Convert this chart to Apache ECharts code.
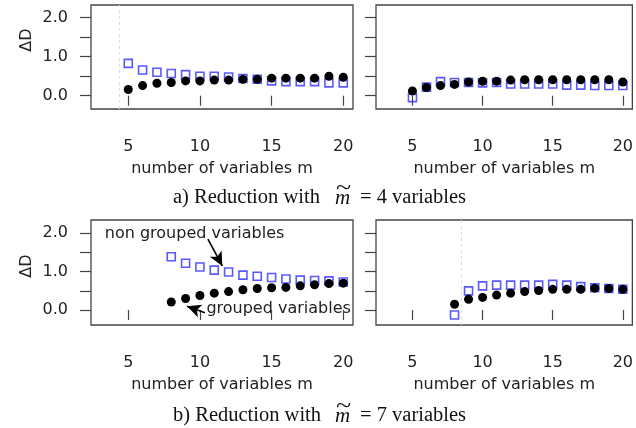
<!DOCTYPE html>
<html><head><meta charset="utf-8">
<script src="https://cdn.jsdelivr.net/npm/echarts@6/dist/echarts.min.js"></script>
<style>html,body{margin:0;padding:0;background:#fff}#c{width:636px;height:428px}</style>
</head><body><div id="c"></div>
<script>
// ---- data ----
const mA = [5,6,7,8,9,10,11,12,13,14,15,16,17,18,19,20];
const groupedA_left     = [0.16,0.26,0.32,0.34,0.38,0.38,0.40,0.40,0.42,0.42,0.45,0.45,0.45,0.45,0.50,0.47];
const nonGroupedA_left  = [0.83,0.66,0.60,0.57,0.54,0.50,0.50,0.48,0.44,0.42,0.38,0.36,0.36,0.36,0.33,0.33];
const groupedA_right    = [0.12,0.21,0.26,0.29,0.35,0.37,0.37,0.40,0.41,0.41,0.41,0.41,0.41,0.41,0.41,0.35];
const nonGroupedA_right = [-0.05,0.22,0.36,0.34,0.34,0.33,0.34,0.30,0.30,0.30,0.30,0.27,0.27,0.26,0.26,0.26];
const mB = [8,9,10,11,12,13,14,15,16,17,18,19,20];
const groupedB_left     = [0.21,0.30,0.38,0.44,0.48,0.53,0.56,0.58,0.59,0.63,0.66,0.69,0.70];
const nonGroupedB_left  = [1.39,1.22,1.12,1.04,0.99,0.91,0.88,0.85,0.81,0.78,0.77,0.76,0.73];
const groupedB_right    = [0.15,0.28,0.33,0.39,0.44,0.48,0.51,0.54,0.54,0.54,0.57,0.56,0.54];
const nonGroupedB_right = [-0.13,0.50,0.63,0.65,0.65,0.65,0.65,0.67,0.65,0.61,0.58,0.56,0.54];
const xTicks = [5,10,15,20];
const yTicks = [0,0.5,1,1.5,2];
const yLabels = [0,1,2];
const xTitle = 'number of variables m';
const yTitle = 'ΔD';
const captionA = ['a) Reduction with', 'm', '= 4 variables'];
const captionB = ['b) Reduction with', 'm', '= 7 variables'];
const annNon = 'non grouped variables';
const annGrp = 'grouped variables';

const SANS = 'DejaVu Sans';
const SERIF = 'Liberation Serif';
const chart = echarts.init(document.getElementById('c'), null, {renderer:'canvas'});

const grids = [
  {left:91, top:5, width:262, height:104},
  {left:376, top:5, width:262, height:104},
  {left:91, top:220, width:262, height:105},
  {left:376, top:220, width:262, height:105}
];
const yRanges = [[-0.341,2.326],[-0.341,2.326],[-0.39,2.347],[-0.39,2.347]];

function xAxis(i){
  return {type:'value', gridIndex:i, min:2.4, max:20.68,
    axisLine:{show:false}, splitLine:{show:false},
    axisTick:{show:true, inside:false, length:10, customValues:xTicks, lineStyle:{color:'#444', width:1.2}},
    axisLabel:{show:true, customValues:xTicks, margin:30, fontFamily:SANS, fontSize:16, color:'#222'},
    name:xTitle, nameLocation:'middle', nameGap:52,
    nameTextStyle:{fontFamily:SANS, fontSize:16, color:'#222'}};
}
function yAxis(i){
  const showLab = (i%2===0);
  return {type:'value', gridIndex:i, min:yRanges[i][0], max:yRanges[i][1],
    axisLine:{show:false}, splitLine:{show:false},
    axisTick:{show:true, inside:false, length:11, customValues:yTicks, lineStyle:{color:'#444', width:1.2}},
    axisLabel:{show:showLab, customValues:yLabels, margin:23, fontFamily:SANS, fontSize:16, color:'#222',
      formatter:v=>Number(v).toFixed(1)}};
}
function pairs(xs, ys){ return xs.map((x,k)=>[x,ys[k]]); }
function sq(i, xs, ys, extra){
  return Object.assign({type:'scatter', xAxisIndex:i, yAxisIndex:i, data:pairs(xs,ys), symbol:'rect', symbolSize:8,
    itemStyle:{color:'rgba(0,0,0,0)', borderColor:'#3030ff', borderWidth:1.6}, z:2, silent:true, animation:false}, extra||{});
}
function dot(i, xs, ys, extra){
  return Object.assign({type:'scatter', xAxisIndex:i, yAxisIndex:i, data:pairs(xs,ys), symbol:'circle', symbolSize:9,
    itemStyle:{color:'#000', opacity:1}, z:3, silent:true, animation:false}, extra||{});
}
const faint = (xv)=>({markLine:{silent:true, symbol:['none','none'], label:{show:false},
  lineStyle:{color:'#dcdcdc', type:[3,3], width:1}, data:[{xAxis:xv}], animation:false}});

const arrowLines = {markLine:{silent:true, symbol:['none','arrow'], symbolSize:[10,14], label:{show:false},
  lineStyle:{color:'#000', type:'solid', width:1.6}, animation:false,
  data:[
    [{coord:[10.56,1.85]},{coord:[11.56,1.15]}],
    [{coord:[10.35,-0.07]},{coord:[9.1,0.10]}]
  ]}};

const option = {
  animation:false,
  backgroundColor:'#fff',
  grid: grids.map(g=>Object.assign({show:true, borderColor:'#444', borderWidth:1.3, backgroundColor:'transparent'}, g)),
  xAxis:[0,1,2,3].map(xAxis),
  yAxis:[0,1,2,3].map(yAxis),
  series:[
    sq(0, mA, nonGroupedA_left, faint(4.36)), dot(0, mA, groupedA_left),
    sq(1, mA, nonGroupedA_right), dot(1, mA, groupedA_right),
    sq(2, mB, nonGroupedB_left, arrowLines), dot(2, mB, groupedB_left),
    sq(3, mB, nonGroupedB_right, faint(8.45)), dot(3, mB, groupedB_right)
  ]
};
chart.setOption(option);

// text annotations positioned via data coordinates of panel b-left
const pNon = chart.convertToPixel({gridIndex:2}, [3.36, 1.98]);
const pGrp = chart.convertToPixel({gridIndex:2}, [10.45, 0.03]);

function caption(parts, y){
  return [
    {type:'text', left:173, top:y-8, style:{text:parts[0], font:'20.5px "'+SERIF+'"', fill:'#111'}},
    {type:'text', left:335, top:y-7, style:{text:parts[1], font:'italic 21px "'+SERIF+'"', fill:'#111'}},
    {type:'text', left:336, top:y-16, scaleX:1.4, style:{text:'~', font:'20px "'+SERIF+'"', fill:'#111'}},
    {type:'text', left:360, top:y-8, style:{text:parts[2], font:'20.5px "'+SERIF+'"', fill:'#111'}}
  ];
}

chart.setOption({graphic:[
  {type:'text', x:27, y:40, rotation:Math.PI/2, style:{text:yTitle, font:'16px "'+SANS+'"', fill:'#222', align:'center', verticalAlign:'middle'}},
  {type:'text', x:27, y:266, rotation:Math.PI/2, style:{text:yTitle, font:'16px "'+SANS+'"', fill:'#222', align:'center', verticalAlign:'middle'}},
  {type:'text', x:pNon[0], y:pNon[1], style:{text:annNon, font:'16px "'+SANS+'"', fill:'#222', align:'left', verticalAlign:'middle'}},
  {type:'text', x:pGrp[0], y:pGrp[1], style:{text:annGrp, font:'16px "'+SANS+'"', fill:'#222', align:'left', verticalAlign:'middle'}},
  ...caption(captionA, 195),
  ...caption(captionB, 413)
]});
</script></body></html>
